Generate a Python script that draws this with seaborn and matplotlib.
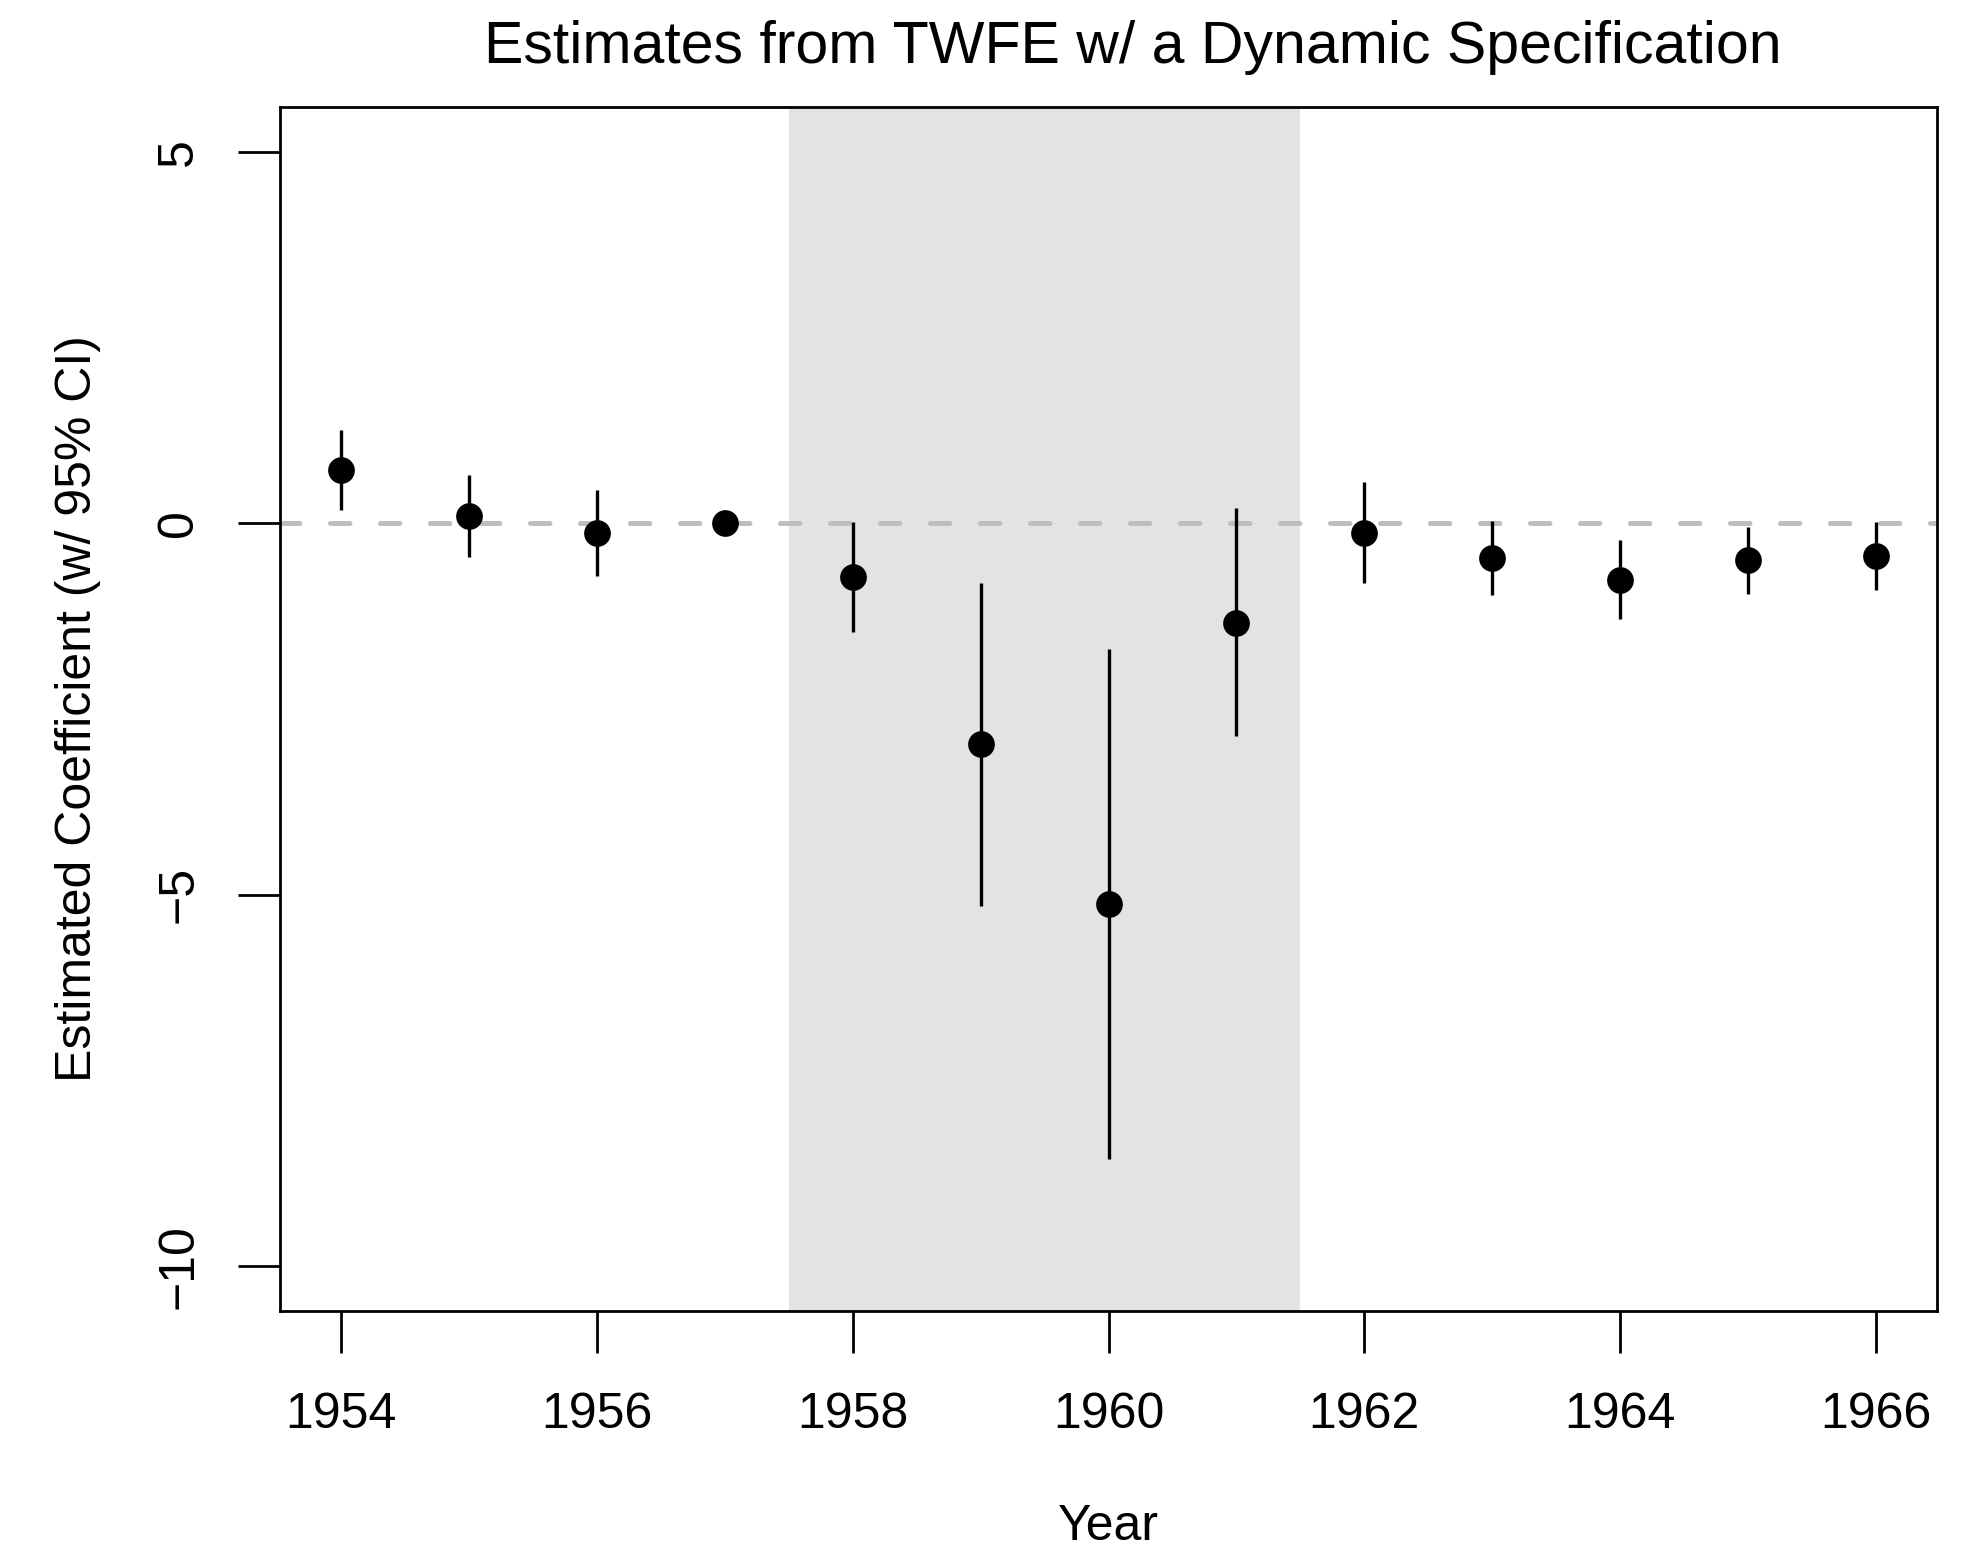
import matplotlib
matplotlib.use("Agg")
import matplotlib.pyplot as plt
import seaborn as sns
import pandas as pd
import numpy as np

years = [1954, 1955, 1956, 1957, 1958, 1959, 1960, 1961, 1962, 1963, 1964, 1965, 1966]
estimates = [0.71, 0.10, -0.13, 0.0, -0.72, -2.97, -5.13, -1.34, -0.13, -0.47, -0.76, -0.50, -0.44]
ci_upper = [1.25, 0.65, 0.45, 0.0, 0.01, -0.80, -1.69, 0.20, 0.55, 0.03, -0.23, -0.05, 0.01]
ci_lower = [0.18, -0.46, -0.71, 0.0, -1.47, -5.15, -8.56, -2.87, -0.80, -0.97, -1.29, -0.95, -0.90]
shade_start, shade_end = 1957.5, 1961.5
x_ticks = [1954, 1956, 1958, 1960, 1962, 1964, 1966]
y_ticks = [-10, -5, 0, 5]
y_tick_labels = ["\u221210", "\u22125", "0", "5"]

df = pd.DataFrame({"Year": years, "est": estimates, "lo": ci_lower, "hi": ci_upper})

sns.set_style("white")
plt.rcParams["font.family"] = ["Liberation Sans", "DejaVu Sans"]
plt.rcParams["lines.scale_dashes"] = False
plt.rcParams["text.color"] = "black"
plt.rcParams["axes.labelcolor"] = "black"
plt.rcParams["xtick.color"] = "black"
plt.rcParams["ytick.color"] = "black"

fig = plt.figure(figsize=(19.88, 15.48), dpi=100)
ax = fig.add_axes([280/1988, 1 - 1311/1548, (1937-280)/1988, (1311-107)/1548])

ax.axvspan(shade_start, shade_end, color="#E3E3E3", zorder=0, lw=0)
ax.axhline(0, color="#BEBEBE", lw=3.6, dashes=(14, 22), dash_capstyle="round", zorder=1)
ax.vlines(df["Year"], df["lo"], df["hi"], color="black", lw=2.4, zorder=2)
sns.scatterplot(data=df, x="Year", y="est", ax=ax, color="black", s=370,
                edgecolor="black", linewidth=0, zorder=3)

ax.set_xlim(1953.52, 1966.48)
ax.set_ylim(-10.6, 5.6)
ax.set_xticks(x_ticks)
ax.set_xticklabels([str(t) for t in x_ticks])
ax.set_yticks(y_ticks)
ax.set_yticklabels(y_tick_labels, rotation=90, va="center")
ax.tick_params(axis="both", which="major", length=30, width=2.0, color="black",
               labelcolor="black", labelsize=36, direction="out", left=True, bottom=True)
ax.tick_params(axis="x", pad=28)
ax.tick_params(axis="y", pad=26)

for s in ax.spines.values():
    s.set_visible(True)
    s.set_color("black")
    s.set_linewidth(2.0)

ax.set_xlabel("Year", fontsize=36, color="black")
ax.set_ylabel("Estimated Coefficient (w/ 95% CI)", fontsize=36, color="black")
ax.xaxis.set_label_coords(0.5, -0.16)
ax.yaxis.set_label_coords(-0.108, 0.5)

fig.text(1133/1988, 1 - 63/1548, "Estimates from TWFE w/ a Dynamic Specification",
         ha="center", va="baseline", fontsize=42.5, color="black")

fig.savefig("out.png", dpi=100)
